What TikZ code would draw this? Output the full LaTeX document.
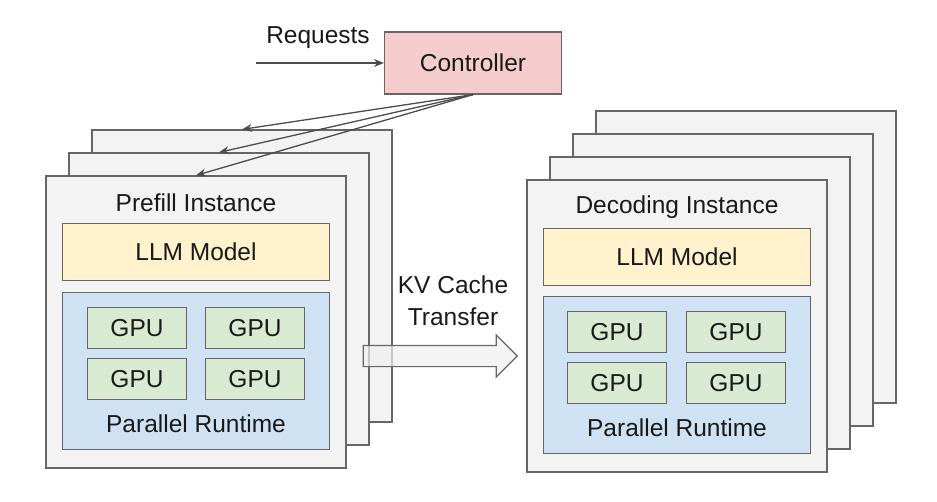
\documentclass[tikz,border=0pt]{standalone}
\usepackage{fontspec}
\setmainfont{Liberation Sans}
\usetikzlibrary{arrows.meta,shapes.arrows}

\definecolor{instgray}{HTML}{F3F3F3}
\definecolor{linegray}{HTML}{666666}
\definecolor{llmyellow}{HTML}{FFF2CC}
\definecolor{rtblue}{HTML}{CFE2F3}
\definecolor{gpugreen}{HTML}{D9EAD3}
\definecolor{ctrlred}{HTML}{F4CCCC}

\begin{document}
\begin{tikzpicture}[x=1pt,y=-1pt,
    every node/.style={font=\fontsize{24.5}{32}\selectfont, text=black!90},
    instbox/.style={draw=linegray, fill=instgray, line width=1.2pt, inner sep=0pt,
        minimum width=300pt, minimum height=292pt},
    modelbox/.style={draw=linegray, fill=llmyellow, line width=1.2pt, inner sep=0pt,
        minimum width=267pt, minimum height=57pt},
    runbox/.style={draw=linegray, fill=rtblue, line width=1.2pt, inner sep=0pt,
        minimum width=267pt, minimum height=157pt},
    gpubox/.style={draw=linegray, fill=gpugreen, line width=1.2pt, inner sep=0pt,
        minimum width=99pt, minimum height=41pt},
    ctrlbox/.style={draw=linegray, fill=ctrlred, line width=1.2pt, inner sep=0pt,
        minimum width=177pt, minimum height=62pt},
    link/.style={draw=black!70, line width=1.3pt, -{Stealth[length=10pt,width=8pt]}},
    kvarrow/.style={single arrow, draw=linegray, fill=gray!12, fill opacity=0.7,
        line width=1.2pt, inner xsep=0pt, inner ysep=10pt, minimum height=154pt,
        single arrow head extend=10.5pt, single arrow tip angle=90}]

    \useasboundingbox (0,0) rectangle (937,501);

    % Controller
    \node[ctrlbox] (ctrl) at (473,63) {Controller};
    \coordinate (req) at (256,63);
    \node (reqlabel) at (318,38) {Requests};
    \draw[link] (req) -- (ctrl.west);

    % Prefill instances
    \node[instbox] (pback2) at (242,276) {};
    \node[instbox] (pback1) at (219,299) {};
    \node[instbox] (pfront) at (196,322) {};
    \node (ptitle) at (196,203) {Prefill Instance};
    \node[modelbox] (pmodel) at (196,252) {LLM Model};
    \node[runbox] (prun) at (196,371) {};
    \node[gpubox] (pgpu1) at (137,328) {GPU};
    \node[gpubox] (pgpu2) at (255,328) {GPU};
    \node[gpubox] (pgpu3) at (137,379) {GPU};
    \node[gpubox] (pgpu4) at (255,379) {GPU};
    \node (prunlabel) at (196,424) {Parallel Runtime};

    % Controller to prefill instances
    \draw[link] (ctrl.south) -- (pback2.north);
    \draw[link] (ctrl.south) -- (pback1.north);
    \draw[link] (ctrl.south) -- (pfront.north);

    % Decoding instances
    \node[instbox] (dback3) at (746,257) {};
    \node[instbox] (dback2) at (723,280) {};
    \node[instbox] (dback1) at (700,303) {};
    \node[instbox] (dfront) at (677,326) {};
    \node (dtitle) at (677,207) {Decoding Instance};
    \node[modelbox] (dmodel) at (677,257) {LLM Model};
    \node[runbox] (drun) at (677,375) {};
    \node[gpubox] (dgpu1) at (617,332) {GPU};
    \node[gpubox] (dgpu2) at (736,332) {GPU};
    \node[gpubox] (dgpu3) at (617,383) {GPU};
    \node[gpubox] (dgpu4) at (736,383) {GPU};
    \node (drunlabel) at (677,428) {Parallel Runtime};

    % KV cache transfer
    \node[kvarrow] (kv) at (435,356) {};
    \node[align=center] (kvlabel) at (453,301) {KV Cache\\Transfer};
\end{tikzpicture}
\end{document}
